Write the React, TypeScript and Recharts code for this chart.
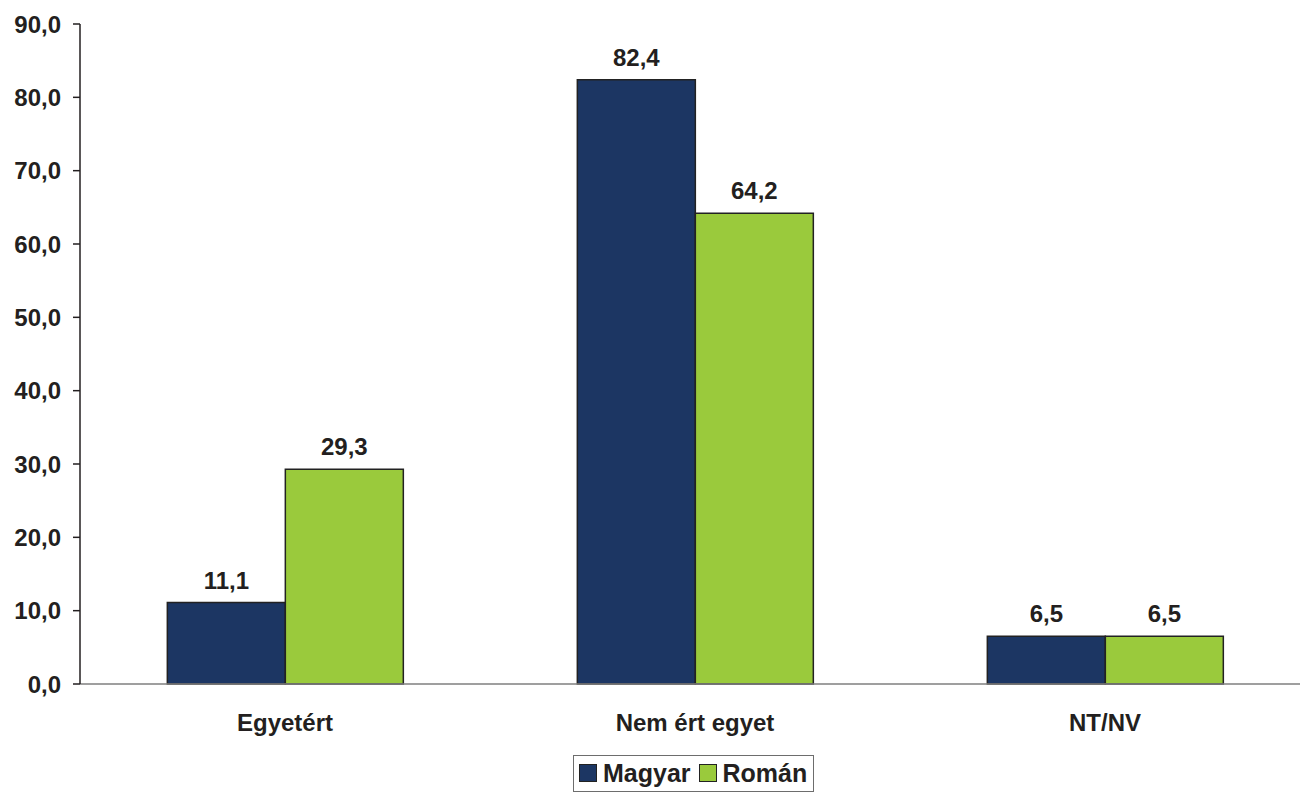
import React from 'react';
import { BarChart, Bar, XAxis, YAxis, LabelList, Legend } from 'recharts';

const categories = ['Egyetért', 'Nem ért egyet', 'NT/NV'];
const magyar = [11.1, 82.4, 6.5];
const roman = [29.3, 64.2, 6.5];
const yTicks = [0, 10, 20, 30, 40, 50, 60, 70, 80, 90];
const boundaryTicks = [0, 1, 2, 3];
const seriesNames = ['Magyar', 'Román'];
const colors = ['#1C3663', '#9ACA3C'];

const data = categories.map((c, i) => ({ name: c, magyar: magyar[i], roman: roman[i] }));

const fmt = (v: number) => v.toFixed(1).replace('.', ',');
const FONT = '"Liberation Sans", Arial, sans-serif';
const TEXT = '#231F20';

const LegendBox = () => (
  <div
    style={{
      display: 'inline-flex',
      alignItems: 'center',
      border: '1px solid #6d6d6d',
      background: '#fff',
      padding: '4px 6px 5px 5px',
      fontFamily: FONT,
      fontWeight: 700,
      fontSize: 25,
      color: TEXT,
      lineHeight: '26px',
      whiteSpace: 'nowrap',
    }}
  >
    {seriesNames.map((n, i) => (
      <span key={n} style={{ display: 'inline-flex', alignItems: 'center', marginRight: i === 0 ? 8 : 0 }}>
        <span
          style={{
            display: 'inline-block',
            width: 16,
            height: 16,
            background: colors[i],
            border: '1px solid #222',
            marginRight: 6,
          }}
        />
        {n}
      </span>
    ))}
  </div>
);

export default function App() {
  return (
    <div style={{ position: 'absolute', left: 0, top: 0, width: 1300, height: 792, overflow: 'hidden', background: '#fff' }}>
      <BarChart
        width={1320}
        height={792}
        data={data}
        margin={{ top: 24, right: 10, left: 0, bottom: 0 }}
        barCategoryGap="21.3%"
        barGap={0}
      >
        <XAxis
          xAxisId="bound"
          type="number"
          domain={[0, 3]}
          ticks={boundaryTicks}
          tick={false}
          axisLine={false}
          tickLine={{ stroke: '#7f7f7f', strokeWidth: 1.5 }}
          tickSize={8}
          height={0}
          allowDataOverflow
        />
        <XAxis
          dataKey="name"
          height={71}
          axisLine={{ stroke: '#7f7f7f', strokeWidth: 1.5 }}
          tickLine={false}
          tickMargin={24}
          tick={{ fontFamily: FONT, fontWeight: 700, fontSize: 24, fill: TEXT }}
        />
        <YAxis
          width={80}
          domain={[0, 90]}
          ticks={yTicks}
          interval={0}
          tickFormatter={fmt}
          axisLine={{ stroke: '#231F20', strokeWidth: 1.5 }}
          tickLine={{ stroke: '#231F20', strokeWidth: 1.5 }}
          tickSize={7}
          tickMargin={12}
          tick={{ fontFamily: FONT, fontWeight: 700, fontSize: 24, fill: TEXT }}
        />
        <Legend
          verticalAlign="bottom"
          align="left"
          content={() => <LegendBox />}
          wrapperStyle={{ left: 573, width: 'auto' }}
        />
        <Bar dataKey="magyar" name="Magyar" fill={colors[0]} stroke="#222" strokeWidth={1.5} isAnimationActive={false}>
          <LabelList dataKey="magyar" position="top" offset={14} formatter={fmt as any} style={{ fontFamily: FONT, fontWeight: 700, fontSize: 24, fill: TEXT }} />
        </Bar>
        <Bar dataKey="roman" name="Román" fill={colors[1]} stroke="#222" strokeWidth={1.5} isAnimationActive={false}>
          <LabelList dataKey="roman" position="top" offset={14} formatter={fmt as any} style={{ fontFamily: FONT, fontWeight: 700, fontSize: 24, fill: TEXT }} />
        </Bar>
      </BarChart>
    </div>
  );
}
